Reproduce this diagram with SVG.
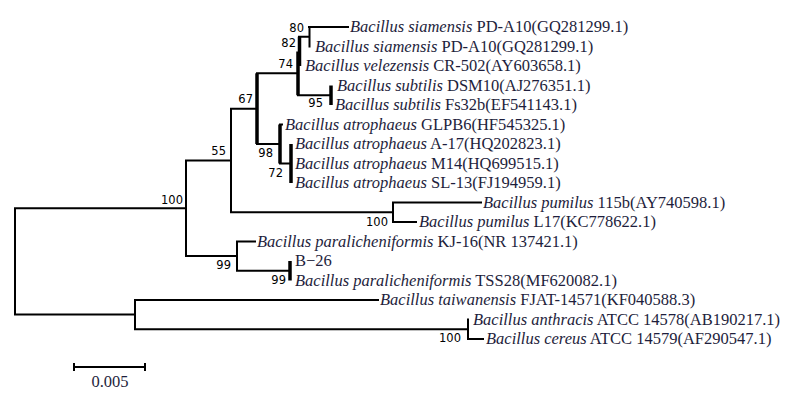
<svg xmlns="http://www.w3.org/2000/svg" width="807" height="393" viewBox="0 0 807 393">
<style>
.br{fill:none;stroke:#000;stroke-width:2;stroke-linecap:square}
.tk{fill:none;stroke:#000;stroke-width:3.5;stroke-linecap:butt}
.lf{font-family:"Liberation Serif","Times New Roman",serif;font-size:16.5px;fill:#1e1e3c}
.sp{font-style:italic}
.bs{font-family:"DejaVu Sans","Liberation Sans",sans-serif;font-size:11.5px;fill:#000;text-anchor:end}
</style>
<rect width="807" height="393" fill="#fff"/>
<g id="connectors">
<path class="br" d="M15,208.3V314.6 M15,208.3H186 M15,314.6H135"/>
<path class="br" d="M186,160.5V256 M186,160.5H231 M186,256H237"/>
<path class="br" d="M231,108.7V212.25 M231,108.7H257 M231,212.25H393"/>
<path class="tk" d="M257,73.3V144"/>
<path class="br" d="M257,73.3H297 M257,144H280"/>
<path class="tk" d="M298,51.4V95.25 M299.5,36.75V66"/>
<path class="br" d="M298,95.25H331 M299,36.75H309"/>
<path class="br" d="M309.5,27V46.5 M309,27H348"/>
<path class="tk" d="M331,85.5V105"/>
<path class="tk" d="M280,124.5V163.5 M291,144V183"/>
<path class="br" d="M280,124.5H282 M280,163.5H291"/>
<path class="br" d="M393,202.5V222 M393,202.5H481 M393,222H416"/>
<path class="br" d="M237,241.5V270.75 M237,241.5H255 M237,270.75H290"/>
<path class="tk" d="M290,261V280.5"/>
<path class="br" d="M135,300V329.25 M135,300H378 M135,329.25H468"/>
<path class="br" d="M468,319.5V339 M468,339H483"/>
</g>
<g id="bootstrap">
<text class="bs" x="304" y="32">80</text>
<text class="bs" x="296" y="47">82</text>
<text class="bs" x="293" y="68">74</text>
<text class="bs" x="323" y="107">95</text>
<text class="bs" x="253" y="103">67</text>
<text class="bs" x="273" y="157">98</text>
<text class="bs" x="283" y="177">72</text>
<text class="bs" x="226" y="155">55</text>
<text class="bs" x="183" y="204">100</text>
<text class="bs" x="388" y="226">100</text>
<text class="bs" x="231" y="269">99</text>
<text class="bs" x="286" y="284">99</text>
<text class="bs" x="461" y="342">100</text>
</g>
<g id="leaf-siamensis-1"><text class="lf" x="350" y="32"><tspan class="sp">Bacillus siamensis</tspan> PD-A10(GQ281299.1)</text></g>
<g id="leaf-siamensis-2"><text class="lf" x="315" y="51.5"><tspan class="sp">Bacillus siamensis</tspan> PD-A10(GQ281299.1)</text></g>
<g id="leaf-velezensis"><text class="lf" x="305" y="71"><tspan class="sp">Bacillus velezensis</tspan> CR-502(AY603658.1)</text></g>
<g id="leaf-subtilis-dsm10"><text class="lf" x="337" y="90.5"><tspan class="sp">Bacillus subtilis</tspan> DSM10(AJ276351.1)</text></g>
<g id="leaf-subtilis-fs32b"><text class="lf" x="335" y="110"><tspan class="sp">Bacillus subtilis</tspan> Fs32b(EF541143.1)</text></g>
<g id="leaf-atrophaeus-glpb6"><text class="lf" x="285" y="129.5"><tspan class="sp">Bacillus atrophaeus</tspan> GLPB6(HF545325.1)</text></g>
<g id="leaf-atrophaeus-a17"><text class="lf" x="295" y="149"><tspan class="sp">Bacillus atrophaeus</tspan> A-17(HQ202823.1)</text></g>
<g id="leaf-atrophaeus-m14"><text class="lf" x="295" y="168.5"><tspan class="sp">Bacillus atrophaeus</tspan> M14(HQ699515.1)</text></g>
<g id="leaf-atrophaeus-sl13"><text class="lf" x="295" y="188"><tspan class="sp">Bacillus atrophaeus</tspan> SL-13(FJ194959.1)</text></g>
<g id="leaf-pumilus-115b"><text class="lf" x="483" y="207.5"><tspan class="sp">Bacillus pumilus</tspan> 115b(AY740598.1)</text></g>
<g id="leaf-pumilus-l17"><text class="lf" x="419" y="227"><tspan class="sp">Bacillus pumilus</tspan> L17(KC778622.1)</text></g>
<g id="leaf-paralicheniformis-kj16"><text class="lf" x="257" y="246.5"><tspan class="sp">Bacillus paralicheniformis</tspan> KJ-16(NR 137421.1)</text></g>
<g id="leaf-b26"><text class="lf" x="295" y="266">B−26</text></g>
<g id="leaf-paralicheniformis-tss28"><text class="lf" x="295" y="285.5"><tspan class="sp">Bacillus paralicheniformis</tspan> TSS28(MF620082.1)</text></g>
<g id="leaf-taiwanensis"><text class="lf" x="380" y="305"><tspan class="sp">Bacillus taiwanensis</tspan> FJAT-14571(KF040588.3)</text></g>
<g id="leaf-anthracis"><text class="lf" x="473" y="324.5"><tspan class="sp">Bacillus anthracis</tspan> ATCC 14578(AB190217.1)</text></g>
<g id="leaf-cereus"><text class="lf" x="486" y="344"><tspan class="sp">Bacillus cereus</tspan> ATCC 14579(AF290547.1)</text></g>
<g id="scale-bar">
<path class="br" d="M74,367H145"/>
<path class="br" d="M74,363V371 M145,363V371" style="stroke-linecap:butt"/>
<text class="lf" x="110" y="387" text-anchor="middle">0.005</text>
</g>
</svg>
